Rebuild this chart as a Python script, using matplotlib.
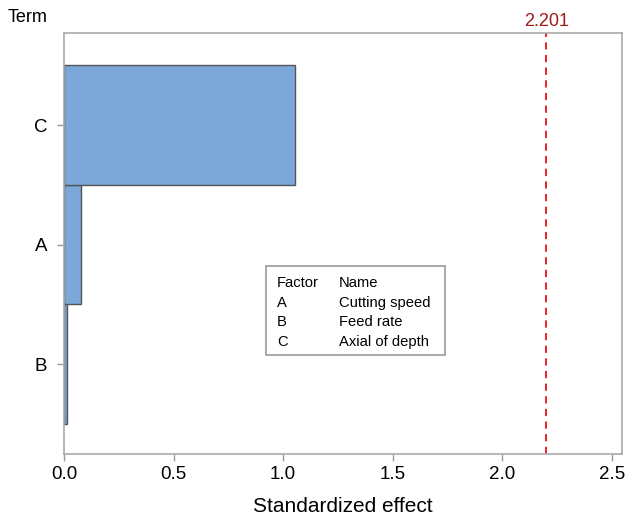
import matplotlib.pyplot as plt
from matplotlib.patches import Rectangle

plt.rcParams['font.family'] = ['Liberation Sans', 'DejaVu Sans']

# Pareto of standardized effects
terms = ['B', 'A', 'C']
effects = [0.012, 0.078, 1.055]
critical = 2.201

factors = ['A', 'B', 'C']
factor_names = ['Cutting speed', 'Feed rate', 'Axial of depth']

fig = plt.figure(figsize=(6.28, 5.17), dpi=100)
ax = fig.add_axes([0.102, 0.122, 0.888, 0.814])

ax.barh(range(len(terms)), effects, height=1.0, left=0,
        color='#7ba7d9', edgecolor='#555555', linewidth=1.0)
ax.axvline(critical, color='#e8101a', linestyle=(0, (4, 3)), linewidth=1.3)
ax.text(critical, 2.80, f'{critical:.3f}', color='#a01a1a', fontsize=13,
        ha='center', va='bottom')

ax.set_xlim(0, 2.545)
ax.set_ylim(-0.75, 2.77)
ax.set_yticks(range(len(terms)))
ax.set_yticklabels(terms)
ax.set_xticks([0, 0.5, 1.0, 1.5, 2.0, 2.5])
ax.set_xticklabels(['0.0', '0.5', '1.0', '1.5', '2.0', '2.5'])
ax.tick_params(axis='both', labelsize=13.5, color='#999999', length=5, width=1)
ax.tick_params(axis='y', pad=7)
for s in ax.spines.values():
    s.set_color('#aaaaaa')
    s.set_linewidth(1.2)

ax.set_xlabel('Standardized effect', fontsize=15, labelpad=10)
fig.text(8 / 628, 1 - 18 / 517, 'Term', fontsize=13, ha='left', va='center')

# factor key box
box = Rectangle((266, 517 - 355), 179, 89, transform=None, fill=True,
                facecolor='white', edgecolor='#999999', linewidth=1.2)
fig.patches.append(box)
rows = [('Factor', 'Name')] + list(zip(factors, factor_names))
for i, (f, n) in enumerate(rows):
    y = 1 - (283 + i * 19.7) / 517
    fig.text(277 / 628, y, f, fontsize=10.6, va='center')
    fig.text(339 / 628, y, n, fontsize=10.6, va='center')

plt.savefig('out.png')
